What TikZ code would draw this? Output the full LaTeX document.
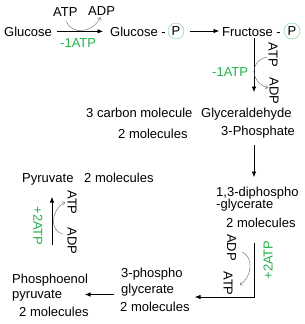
\documentclass[tikz,border=0pt]{standalone}
\usepackage{fontspec}
\setmainfont{Liberation Sans}
\usetikzlibrary{arrows.meta,positioning,calc}
\definecolor{atpgreen}{RGB}{34,177,76}
\definecolor{pgreen}{RGB}{120,205,140}

\begin{document}
\begin{tikzpicture}[
    x=1pt, y=-1pt,
    font=\fontsize{13}{15}\selectfont,
    lbl/.style={
        inner sep=0pt,
        anchor=base west
    },
    gnote/.style={
        lbl,
        text=atpgreen
    },
    vlbl/.style={
        inner sep=0pt,
        anchor=center,
        rotate=-90
    },
    phos/.style={
        circle,
        draw=pgreen,
        inner sep=0pt,
        minimum size=16pt
    },
    arrow/.style={-{Latex[length=5.5pt,width=4.5pt]}, semithick},
    exch/.style={-{Straight Barb[length=2.5pt,width=4pt]}, gray!80!black, thin}
]
\useasboundingbox (0,0) rectangle (305,324);

% top row
\node[lbl] (glc) at (4,36) {Glucose};
\node[lbl] (atp1) at (53,16.5) {ATP};
\node[lbl] (adp1) at (88,15.5) {ADP};
\node[gnote] (cost1) at (60,47) {-1ATP};
\node[lbl] (glcp) at (110,36) {Glucose -};
\node[phos] (p1) at (176,31) {P};
\node[lbl] (frup) at (222,36) {Fructose -};
\node[phos] (p2) at (292,31) {P};

% split into two 3 carbon molecules
\node[vlbl] (atp2) at (273,55) {ATP};
\node[vlbl] (adp2) at (274,91) {ADP};
\node[gnote] (cost2) at (212,76) {-1ATP};
\node[lbl] (carb1) at (86,117) {3 carbon molecule};
\node[lbl] (carb2) at (118,138) {2 molecules};
\node[lbl] (gald1) at (201,117) {Glyceraldehyde};
\node[lbl] (gald2) at (221,135) {3-Phosphate};

\node[lbl] (dpg1) at (216,196) {1,3-diphospho};
\node[lbl] (dpg2) at (216,208.5) {-glycerate};
\node[lbl] (dpg3) at (226,227.5) {2 molecules};

\node[vlbl] (adp3) at (231.5,247.5) {ADP};
\node[vlbl] (atp3) at (228,283.5) {ATP};
\node[gnote, anchor=center, rotate=90] (gain1) at (268,260) {+2ATP};

\node[lbl] (pg1) at (121,277.5) {3-phospho};
\node[lbl] (pg2) at (121,293.5) {glycerate};
\node[lbl] (pg3) at (120,311) {2 molecules};

\node[lbl] (pep1) at (12,283) {Phosphoenol};
\node[lbl] (pep2) at (12,298) {pyruvate};
\node[lbl] (pep3) at (19,316) {2 molecules};

\node[gnote, anchor=center, rotate=-90] (gain2) at (38,226) {+2ATP};
\node[vlbl] (atp4) at (72,202.5) {ATP};
\node[vlbl] (adp4) at (72,241) {ADP};

\node[lbl] (pyr1) at (22,182) {Pyruvate};
\node[lbl] (pyr2) at (84,182) {2 molecules};

% spine points
\coordinate (s1) at (254,38);
\coordinate (s2) at (254,92);
\coordinate (s3) at (254,145);
\coordinate (s4) at (254,177);
\coordinate (s5) at (254,243);
\coordinate (s6) at (254,297);
\coordinate (s7) at (195,297);
\coordinate (s8) at (114,294.5);
\coordinate (s9) at (85,294.5);
\coordinate (s10) at (52,245);
\coordinate (s11) at (52,197);

\draw[arrow, shorten <=5pt, shorten >=7pt] (glc.east) -- (glcp.west);
\draw[arrow, shorten <=6pt, shorten >=3pt] (p1.east) -- (p1.east -| frup.west);
\draw[arrow] (s1) -- (s2);
\draw[arrow] (s3) -- (s4);
\draw[arrow] (s5) -- (s6) -- (s7);
\draw[arrow] (s8) -- (s9);
\draw[arrow] (s10) -- (s11);

% ATP / ADP exchange
\draw[exch] ($(atp1.south)+(1,4.5)$) .. controls +(5,14) and +(-8,16) .. ($(adp1.south)+(-1,1.5)$);
\draw[exch] ($(atp2.center)+(-6,2)$) .. controls +(-18,4) and +(-18,-6) .. ($(adp2.center)+(-6,-3)$);
\draw[exch] ($(adp3.center)+(10.5,4.5)$) .. controls +(12,5) and +(12,-8) .. ($(atp3.center)+(12,1.5)$);
\draw[exch] ($(adp4.center)+(-9,-7)$) .. controls +(-14,-3) and +(-14,8) .. ($(atp4.center)+(-7,-0.5)$);

\end{tikzpicture}
\end{document}
